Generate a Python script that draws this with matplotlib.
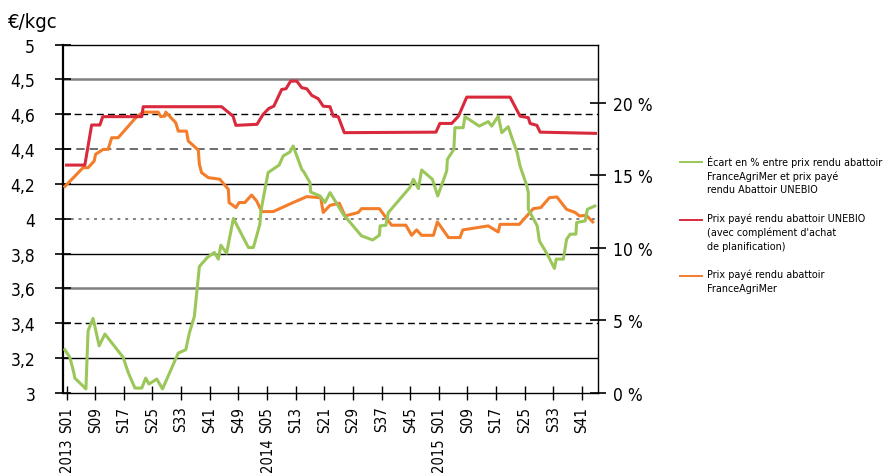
import matplotlib
matplotlib.use('Agg')
import matplotlib.pyplot as plt
from matplotlib.lines import Line2D

plt.rcParams['font.family'] = ['DejaVu Sans']
plt.rcParams['font.stretch'] = 'condensed'

# week index: 0 = 2013 S01
red_weeks = [0, 5.1, 7.0, 9.3, 10.1, 21, 21.4, 43.3, 46.5, 47.3, 53.2, 54.9, 56.5, 57.9, 60.1, 61.3,
             62.6, 64.3, 65.7, 67.1, 68.5, 70.3, 71.7, 73.6, 74.5, 75.9, 77.6, 103.2, 104.3, 107.6,
             109.5, 111.8, 123.9, 126.7, 129.0, 129.5, 131.4, 132.3, 147.8]
red_vals = [4.308, 4.308, 4.538, 4.538, 4.586, 4.586, 4.643, 4.643, 4.589, 4.536, 4.542, 4.599, 4.633,
            4.646, 4.742, 4.746, 4.790, 4.790, 4.752, 4.746, 4.708, 4.689, 4.646, 4.643, 4.589, 4.586,
            4.494, 4.497, 4.547, 4.547, 4.589, 4.698, 4.698, 4.589, 4.580, 4.547, 4.536, 4.497, 4.490]

orange_weeks = [-0.5, 4.6, 6.0, 7.7, 8.1, 10.2, 11.6, 12.6, 14.4, 19.6, 21.4, 25.6, 26.3, 27.5, 27.7,
                30.5, 31.2, 33.5, 34.0, 36.8, 37.1, 37.7, 39.6, 42.8, 45.2, 45.4, 47.3, 48.2, 49.8,
                51.7, 53.1, 54.5, 57.7, 63.3, 67.1, 71.0, 71.7, 73.6, 76.2, 77.8, 81.5, 82.4, 87.4,
                90.8, 94.8, 96.4, 97.8, 99.2, 102.5, 103.6, 106.7, 109.9, 110.7, 117.8, 120.6, 121.1,
                126.5, 130.4, 132.5, 134.9, 137.0, 139.7, 142.1, 143.3, 145.2, 147.0]
orange_vals = [4.185, 4.293, 4.293, 4.331, 4.370, 4.398, 4.398, 4.465, 4.465, 4.586, 4.612, 4.612,
               4.586, 4.589, 4.612, 4.551, 4.503, 4.503, 4.446, 4.394, 4.312, 4.265, 4.236, 4.227,
               4.169, 4.093, 4.064, 4.093, 4.093, 4.136, 4.102, 4.041, 4.041, 4.093, 4.127, 4.121,
               4.036, 4.077, 4.089, 4.016, 4.036, 4.058, 4.058, 3.963, 3.963, 3.905, 3.936, 3.905,
               3.905, 3.982, 3.892, 3.892, 3.936, 3.959, 3.924, 3.968, 3.968, 4.058, 4.064, 4.121,
               4.125, 4.054, 4.036, 4.016, 4.020, 3.982]

green_weeks = [-0.5, 0.9, 2.0, 2.3, 5.4, 6.0, 7.4, 9.1, 10.7, 15.8, 17.2, 19.1, 21.0, 22.1, 23.0,
               25.2, 26.8, 31.2, 33.3, 34.3, 35.7, 37.1, 39.3, 41.3, 42.4, 43.1, 44.7, 46.6, 50.8,
               52.2, 54.0, 54.3, 56.3, 59.4, 60.5, 62.4, 63.3, 65.7, 66.3, 68.0, 68.2, 70.8, 72.2,
               73.6, 77.3, 82.4, 85.5, 87.4, 87.6, 89.2, 89.9, 95.9, 96.9, 98.3, 99.2, 102.2, 103.7,
               106.2, 106.4, 108.2, 108.5, 110.8, 111.3, 115.3, 117.8, 118.8, 120.6, 121.6, 123.4,
               124.4, 125.9, 126.7, 128.6, 129.0, 129.0, 131.5, 132.1, 134.3, 136.3, 136.8, 138.8,
               139.7, 140.7, 142.3, 142.5, 144.9, 145.5, 147.6]
green_vals = [2.98, 2.46, 1.42, 1.03, 0.28, 4.28, 5.14, 3.25, 4.06, 2.46, 1.42, 0.34, 0.34, 1.03, 0.62,
              0.96, 0.28, 2.75, 2.98, 4.13, 5.28, 8.71, 9.33, 9.68, 9.22, 10.18, 9.63, 12.02, 10.02,
              10.02, 11.62, 12.54, 15.18, 15.70, 16.32, 16.60, 17.01, 15.41, 15.22, 14.49, 13.84,
              13.57, 13.12, 13.80, 12.31, 10.82, 10.54, 10.87, 11.51, 11.55, 12.43, 14.15, 14.72,
              14.08, 15.36, 14.72, 13.57, 15.29, 16.09, 16.78, 18.27, 18.27, 19.03, 18.38, 18.69,
              18.38, 19.07, 17.93, 18.34, 17.59, 16.55, 15.63, 14.26, 13.80, 12.65, 11.51, 10.47,
              9.56, 8.58, 9.22, 9.22, 10.59, 10.94, 10.94, 11.74, 11.85, 12.65, 12.88]

tick_weeks = [0, 8, 16, 24, 32, 40, 48, 56, 64, 72, 80, 88, 96, 104, 112, 120, 128, 136, 144]
tick_labels = ['S01', 'S09', 'S17', 'S25', 'S33', 'S41', 'S49', 'S05', 'S13', 'S21', 'S29', 'S37',
               'S45', 'S01', 'S09', 'S17', 'S25', 'S33', 'S41']
year_weeks = [0, 56, 104]
year_labels = ['2013', '2014', '2015']

left_ticks = [3, 3.2, 3.4, 3.6, 3.8, 4.0, 4.2, 4.4, 4.6, 4.8, 5.0]
left_labels = ['3', '3,2', '3,4', '3,6', '3,8', '4', '4,2', '4,4', '4,6', '4,5', '5']
right_ticks = [0, 5, 10, 15, 20]
right_labels = ['0 %', '5 %', '10 %', '15 %', '20 %']

legend_labels = ["Écart en % entre prix rendu abattoir\nFranceAgriMer et prix payé\nrendu Abattoir UNEBIO",
                 "Prix payé rendu abattoir UNEBIO\n(avec complément d'achat\nde planification)",
                 "Prix payé rendu abattoir\nFranceAgriMer"]

GREEN = '#9bc75a'
RED = '#d82a3c'
ORANGE = '#f47d2a'

fig = plt.figure(figsize=(8.85, 4.77), dpi=100)
ax = fig.add_axes([0.0712, 0.174, 0.6042, 0.7306])
ax.set_xlim(-1, 148.4)
ax.set_ylim(3, 5)

# horizontal guide lines (mixed styles as in the original)
grid = [(3.2, 'k', '-', 1.0), (3.4, 'k', (0, (5, 3)), 1.0), (3.6, '#808080', '-', 1.8),
        (3.8, 'k', '-', 1.0), (4.0, '#808080', (0, (1.5, 2.5)), 1.4), (4.2, 'k', '-', 1.0),
        (4.4, '#555555', (0, (5, 3)), 1.2), (4.6, 'k', (0, (5, 3)), 1.0), (4.8, '#808080', '-', 1.8)]
for yv, c, ls, lw in grid:
    ax.axhline(yv, color=c, linestyle=ls, linewidth=lw, zorder=1)

ax.plot(orange_weeks, orange_vals, color=ORANGE, lw=2.2, zorder=3)
ax.plot(red_weeks, red_vals, color=RED, lw=2.2, zorder=4)

ax.set_yticks(left_ticks)
ax.set_yticklabels(left_labels, fontsize=12.5)
ax.set_xticks(tick_weeks)
ax.set_xticklabels(tick_labels, rotation=90, fontsize=11)
ax.tick_params(axis='y', direction='inout', length=12, width=1.2, pad=14)
ax.tick_params(axis='x', direction='inout', length=10, width=1.0, pad=4)
ax.spines['left'].set_linewidth(1.6)
for s in ['top', 'right', 'bottom']:
    ax.spines[s].set_linewidth(1.0)

for w, lab in zip(year_weeks, year_labels):
    ax.annotate(lab, xy=(w, 0), xycoords=('data', 'axes fraction'), xytext=(0, -32),
                textcoords='offset points', rotation=90, ha='center', va='top', fontsize=10.5)

ax2 = ax.twinx()
ax2.set_ylim(0, 24)
ax2.plot(green_weeks, green_vals, color=GREEN, lw=2.2, zorder=3)
ax2.set_yticks(right_ticks)
ax2.set_yticklabels(right_labels, fontsize=12.5)
ax2.tick_params(axis='y', direction='inout', length=12, width=1.2, pad=5)
for s in ['left', 'top', 'right', 'bottom']:
    ax2.spines[s].set_visible(False)

fig.text(8 / 885, 1 - 22 / 477, '€/kgc', fontsize=14.5, va='center', ha='left')

# legend drawn by hand on the right; size the text so the longest line fits the space
W, H = 885, 477
renderer = fig.canvas.get_renderer()
probe = fig.text(0, 0, legend_labels[0].split('\n')[0], fontsize=9)
leg_size = 9 * 175 / probe.get_window_extent(renderer).width
probe.remove()

leg_y = [163, 221, 277]
for (yy, col, lab) in zip(leg_y, [GREEN, RED, ORANGE], legend_labels):
    fig.add_artist(Line2D([680 / W, 702 / W], [1 - yy / H, 1 - yy / H], color=col, lw=1.4))
    fig.text(707 / W, 1 - (yy - 7) / H, lab, fontsize=leg_size, va='top', ha='left', linespacing=1.4)

fig.savefig('out.png', dpi=100)
